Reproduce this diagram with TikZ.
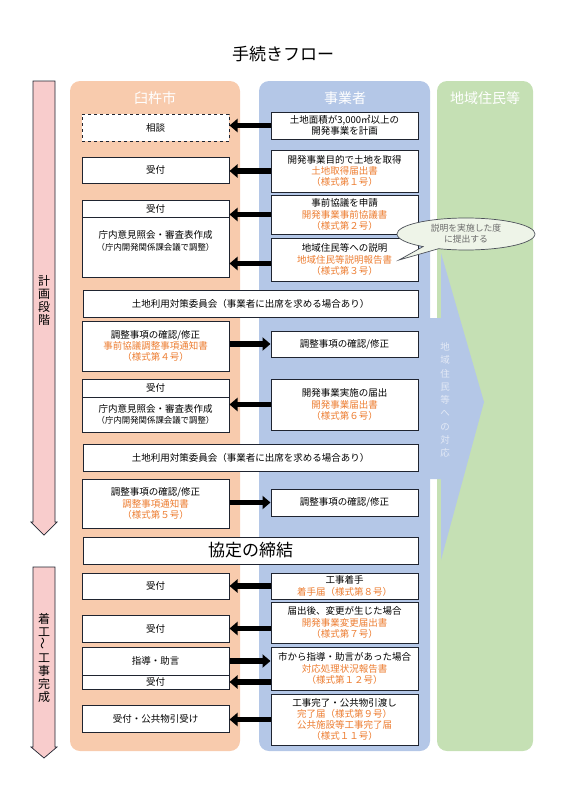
\documentclass[tikz,border=0pt]{standalone}
\usepackage{fontspec}
\usepackage{graphicx}
\setmainfont{Noto Sans CJK JP}
\usetikzlibrary{arrows.meta,shapes.callouts}
\definecolor{cityfill}{HTML}{F8CBAD}
\definecolor{firmfill}{HTML}{B4C7E7}
\definecolor{residfill}{HTML}{C5E0B4}
\definecolor{stagefill}{HTML}{F8CCCC}
\definecolor{docorange}{HTML}{ED7D31}
\definecolor{boxline}{HTML}{1F2430}
\definecolor{memofill}{HTML}{EEF4E8}
\definecolor{memotext}{HTML}{6A6A6A}
\definecolor{responsetext}{HTML}{E4EAF6}
\newcommand{\orn}[1]{\textcolor{docorange}{#1}}

\begin{document}
\begin{tikzpicture}[x=1pt,y=-1pt,
  cell/.style={draw=boxline,fill=white,line width=1pt,align=center,inner sep=0pt,
    font=\fontsize{9.5}{11.3}\selectfont},
  lcell/.style={cell,minimum width=147pt},
  rcell/.style={cell,minimum width=147pt},
  wcell/.style={cell,minimum width=335pt},
  txt/.style={align=center,inner sep=0pt,font=\fontsize{9.5}{11.3}\selectfont},
  flow/.style={-{Triangle[length=8pt,width=13pt]},line width=5.5pt,draw=black},
  head/.style={text=white,inner sep=0pt,font=\fontsize{14}{16}\selectfont},
  stage/.style={align=center,inner sep=0pt,font=\fontsize{12}{13}\selectfont}]
\useasboundingbox (0,0) rectangle (566,800);
% ---------- title ----------
\node[font=\fontsize{17}{19}\selectfont] (title) at (283,54) {手続きフロー};
% ---------- stage arrows ----------
\draw[fill=stagefill,draw=boxline,line width=0.7pt]
  (33,81) -- (55,81) -- (55,522) -- (57,522) -- (44,535) -- (31,522) -- (33,522) -- cycle;
\draw[fill=stagefill,draw=boxline,line width=0.7pt]
  (33,567) -- (55,567) -- (55,747) -- (57,747) -- (44,758) -- (31,747) -- (33,747) -- cycle;
\node[stage] (plan stage) at (44,300) {計\\画\\段\\階};
\node[stage] (work stage) at (44,658) {着\\工\\\rotatebox{90}{～}\\工\\事\\完\\成};
% ---------- columns ----------
\fill[cityfill,rounded corners=10pt] (70,81) rectangle (240,751);
\fill[firmfill,rounded corners=10pt] (259,81) rectangle (430,751);
\fill[residfill,rounded corners=10pt] (437,81) rectangle (533,751);
\node[head] (city) at (155,98) {臼杵市};
\node[head] (firm) at (345,98) {事業者};
\node[head] (resid) at (485,98) {地域住民等};
% response arrow into residents column
\fill[firmfill] (430,318) -- (441,318) -- (441,253) -- (484,402) -- (441,560)
  -- (441,479) -- (430,479) -- cycle;
\node[stage,text=responsetext,font=\fontsize{9.5}{13.3}\selectfont] (response) at (445,400)
  {地\\域\\住\\民\\等\\へ\\の\\対\\応};
% ---------- planning stage ----------
\node[lcell,dashed,minimum height=27pt] (soudan) at (155.5,127.5) {相談};
\node[rcell,minimum height=27pt] (plan) at (344.5,125.5) {土地面積が3,000㎡以上の\\開発事業を計画};
\draw[flow] (plan.west) -- (soudan.east |- plan.west);

\node[lcell,minimum height=26pt] (uke1) at (155.5,170) {受付};
\node[rcell,minimum height=42pt] (shutoku) at (344.5,171)
  {開発事業目的で土地を取得\\\orn{土地取得届出書}\\\orn{（様式第１号）}};
\draw[flow] (shutoku.west) -- (uke1.east |- shutoku.west);

\node[lcell,minimum height=17pt] (uke2) at (155.5,208.5) {受付};
\node[lcell,minimum height=60pt] (chonai1) at (155.5,247) {};
\node[txt] (chonai1t) at ([yshift=6pt]chonai1.center)
  {庁内意見照会・審査表作成\\{\fontsize{8.4}{11.3}\selectfont（庁内開発関係課会議で調整）}};
\node[rcell,minimum height=39pt] (jizen) at (344.5,214.5)
  {事前協議を申請\\\orn{開発事業事前協議書}\\\orn{（様式第２号）}};
\node[rcell,minimum height=43pt] (setsumei) at (344.5,259.5)
  {地域住民等への説明\\\orn{地域住民等説明報告書}\\\orn{（様式第３号）}};
\coordinate (setsumei in) at ([yshift=-4pt]setsumei.west);
\draw[flow] (jizen.west) -- (uke2.east |- jizen.west);
\draw[flow] (setsumei in) -- (chonai1.east |- setsumei in);
\node[ellipse callout,draw=boxline!80,fill=memofill,line width=0.7pt,
  minimum width=138pt,minimum height=32pt,inner sep=0pt,align=center,text=memotext,
  font=\fontsize{8.8}{11}\selectfont,callout absolute pointer={(399,260)}] (memo)
  at (466,234) {説明を実施した度\\に提出する};

\node[wcell,minimum height=27pt] (iinkai1) at (250.5,303.5)
  {土地利用対策委員会（事業者に出席を求める場合あり）};
\node[lcell,minimum height=50pt] (chosei1) at (155.5,346)
  {調整事項の確認/修正\\\orn{事前協議調整事項通知書}\\\orn{（様式第４号）}};
\node[rcell,minimum height=26pt] (kakunin1) at (344.5,344) {調整事項の確認/修正};
\draw[flow] (chosei1.east |- kakunin1.west) -- (kakunin1.west);

\node[lcell,minimum height=18pt] (uke3) at (155.5,388) {受付};
\node[lcell,minimum height=35pt] (chonai2) at (155.5,414.5)
  {庁内意見照会・審査表作成\\{\fontsize{8.4}{11.3}\selectfont（庁内開発関係課会議で調整）}};
\node[rcell,minimum height=51pt] (jisshi) at (344.5,404.5)
  {開発事業実施の届出\\\orn{開発事業届出書}\\\orn{（様式第６号）}};
\draw[flow] (jisshi.west) -- (chonai2.east |- jisshi.west);

\node[wcell,minimum height=27pt] (iinkai2) at (250.5,457.5)
  {土地利用対策委員会（事業者に出席を求める場合あり）};
\node[lcell,minimum height=49pt] (chosei2) at (155.5,503.5)
  {調整事項の確認/修正\\\orn{調整事項通知書}\\\orn{（様式第５号）}};
\node[rcell,minimum height=27pt] (kakunin2) at (344.5,502.5) {調整事項の確認/修正};
\draw[flow] (chosei2.east |- kakunin2.west) -- (kakunin2.west);

\node[wcell,minimum height=27pt,font=\fontsize{17}{19}\selectfont] (kyotei) at (250.5,550.5)
  {協定の締結};
% ---------- construction stage ----------
\node[lcell,minimum height=26pt] (uke4) at (155.5,586) {受付};
\node[rcell,minimum height=26pt] (chakushu) at (344.5,586)
  {工事着手\\\orn{着手届（様式第８号）}};
\draw[flow] (chakushu.west) -- (uke4.east |- chakushu.west);

\node[lcell,minimum height=27pt] (uke5) at (155.5,628.5) {受付};
\node[rcell,minimum height=41pt] (henko) at (344.5,622.5)
  {届出後、変更が生じた場合\\\orn{開発事業変更届出書}\\\orn{（様式第７号）}};
\draw[flow] (henko.west |- uke5.east) -- (uke5.east);

\node[lcell,minimum height=28pt] (shido) at (155.5,661) {指導・助言};
\node[lcell,minimum height=14pt] (uke6) at (155.5,682) {受付};
\node[rcell,minimum height=43pt] (taio) at (344.5,668.5)
  {市から指導・助言があった場合\\\orn{対応処理状況報告書}\\\orn{（様式第１２号）}};
\draw[flow] (shido.east) -- (taio.west |- shido.east);
\draw[flow] (taio.west |- uke6.east) -- (uke6.east);

\node[lcell,minimum height=27pt] (hikiuke) at (155.5,718.5) {受付・公共物引受け};
\node[rcell,minimum height=51pt,font=\fontsize{9.5}{11}\selectfont] (kanryo) at (344.5,719.5)
  {工事完了・公共物引渡し\\\orn{完了届（様式第９号）}\\\orn{公共施設等工事完了届}\\\orn{（様式１１号）}};
\draw[flow] (kanryo.west) -- (hikiuke.east |- kanryo.west);
\end{tikzpicture}
\end{document}
